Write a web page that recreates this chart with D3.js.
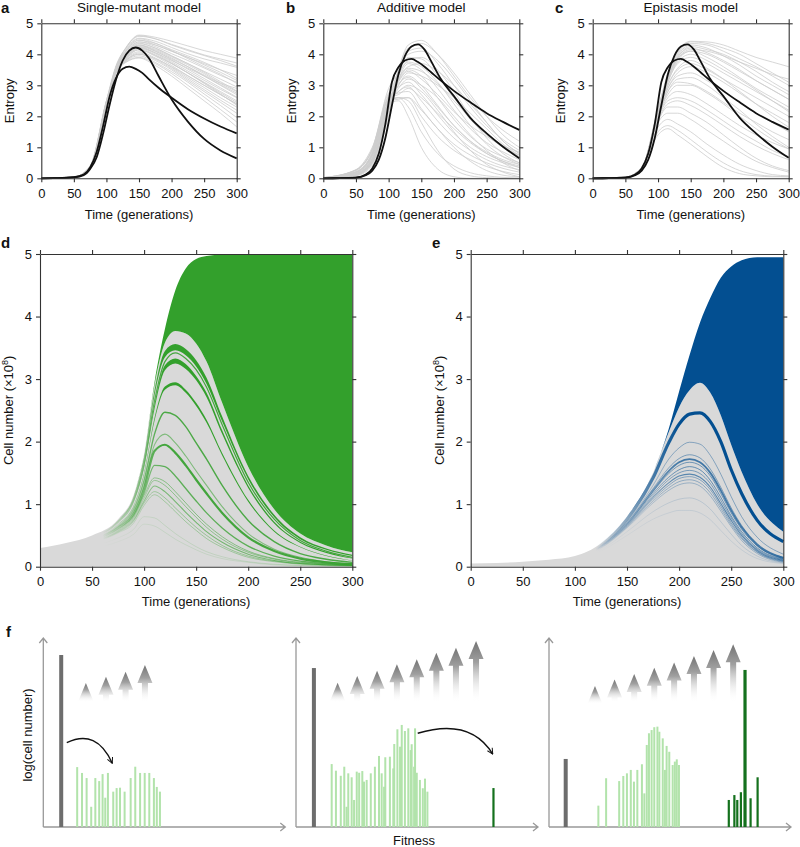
<!DOCTYPE html>
<html><head><meta charset="utf-8">
<script src="https://cdn.jsdelivr.net/npm/d3@7"></script>
<style>body{margin:0;background:#fff}svg{display:block}</style>
</head><body>
<svg id="chart" width="800" height="847"></svg>
<script>
// ---------------- DATA ----------------
const xTicks = [0,50,100,150,200,250,300];
const entropyTicks = [0,1,2,3,4,5];
const cellTicks = [0,1,2,3,4,5];
const panelTitles = ["Single-mutant model","Additive model","Epistasis model"];

const grayTimes = [0,50,75,100,115,130,150,175,200,225,250,275,300];
const blackTimes = [0,25,50,65,75,85,95,105,115,125,135,145,155,165,180,200,225,250,275,300];

const singleBlackHigh = [0,0.005,0.03,0.1,0.3,0.68,1.45,2.38,3.2,3.8,4.12,4.22,4.12,3.88,3.3,2.55,1.83,1.27,0.9,0.645];
const singleBlackLow  = [0,0.005,0.035,0.12,0.35,0.85,1.7,2.65,3.25,3.53,3.6,3.53,3.4,3.2,2.92,2.6,2.23,1.93,1.67,1.45];
const additiveBlackHigh = [0,0.003,0.02,0.1,0.25,0.6,1.3,2.35,3.35,3.95,4.25,4.32,4.15,3.78,3.2,2.65,1.95,1.45,1.02,0.645];
const additiveBlackLow  = [0,0.003,0.025,0.12,0.32,0.8,1.75,3.1,3.58,3.8,3.85,3.75,3.6,3.42,3.15,2.82,2.45,2.1,1.82,1.56];
const epistasisBlackHigh = [0,0.003,0.02,0.1,0.25,0.6,1.3,2.35,3.35,3.95,4.25,4.32,4.15,3.78,3.2,2.65,1.95,1.45,1.02,0.66];
const epistasisBlackLow  = [0,0.003,0.025,0.12,0.32,0.8,1.75,3.1,3.58,3.8,3.85,3.75,3.6,3.42,3.15,2.82,2.45,2.1,1.82,1.57];

const singleGray = [
[0,0.04,0.35,2.4,3.6,4.2,4.62,4.55,4.42,4.27,4.12,4.0,3.88],
[0,0.04,0.38,2.5,3.65,4.2,4.58,4.5,4.32,4.15,3.98,3.85,3.72],
[0,0.03,0.33,2.35,3.55,4.15,4.52,4.42,4.22,4.02,3.85,3.72,3.58],
[0,0.04,0.36,2.45,3.6,4.1,4.46,4.3,4.1,3.9,3.7,3.5,3.32],
[0,0.03,0.3,2.3,3.5,4.05,4.4,4.25,4.02,3.8,3.56,3.32,3.1],
[0,0.04,0.36,2.4,3.55,4.02,4.36,4.2,3.95,3.7,3.45,3.2,2.95],
[0,0.04,0.4,2.5,3.6,4.0,4.3,4.1,3.85,3.6,3.33,3.06,2.8],
[0,0.03,0.32,2.3,3.45,3.95,4.28,4.13,3.88,3.6,3.3,3.0,2.7],
[0,0.04,0.36,2.4,3.5,3.95,4.24,4.05,3.76,3.46,3.16,2.87,2.6],
[0,0.04,0.38,2.45,3.5,3.9,4.18,3.98,3.7,3.4,3.1,2.8,2.5],
[0,0.03,0.34,2.35,3.45,3.88,4.14,3.94,3.64,3.31,3.0,2.7,2.4],
[0,0.04,0.36,2.4,3.45,3.85,4.08,3.88,3.58,3.25,2.93,2.6,2.3],
[0,0.04,0.38,2.45,3.45,3.82,4.04,3.84,3.54,3.2,2.86,2.52,2.2],
[0,0.03,0.33,2.3,3.4,3.8,4.0,3.8,3.5,3.15,2.8,2.45,2.1],
[0,0.04,0.37,2.4,3.42,3.78,3.95,3.74,3.44,3.1,2.72,2.35,1.96],
[0,0.04,0.4,2.5,3.45,3.76,3.9,3.7,3.38,3.0,2.62,2.22,1.82],
[0,0.03,0.35,2.35,3.38,3.74,3.88,3.64,3.3,2.9,2.5,2.1,1.66],
[0,0.04,0.36,2.42,3.6,4.22,4.6,4.5,4.3,4.12,3.96,3.8,3.62],
[0,0.04,0.34,2.38,3.55,4.08,4.45,4.35,4.15,3.95,3.74,3.5,3.22],
[0,0.03,0.32,2.32,3.5,3.98,4.34,4.2,3.95,3.7,3.42,3.12,2.82],
[0,0.04,0.37,2.42,3.5,3.92,4.25,4.1,3.82,3.52,3.22,2.92,2.62],
[0,0.04,0.35,2.38,3.45,3.86,4.15,3.96,3.7,3.4,3.08,2.76,2.45],
[0,0.03,0.33,2.33,3.48,3.9,4.2,4.05,3.8,3.55,3.3,3.02,2.75],
[0,0.04,0.38,2.46,3.55,4.02,4.4,4.3,4.1,3.9,3.66,3.42,3.16],
[0,0.04,0.36,2.4,3.42,3.8,4.0,3.86,3.6,3.3,3.0,2.7,2.4],
[0,0.03,0.34,2.36,3.58,4.12,4.5,4.36,4.12,3.86,3.6,3.36,3.06],
[0,0.04,0.37,2.44,3.52,3.96,4.3,4.16,3.92,3.66,3.38,3.08,2.9],
[0,0.04,0.35,2.4,3.5,3.94,4.22,4.02,3.72,3.4,3.06,2.72,2.36]
];

const additiveGray = [
[0,0.15,0.6,2.4,3.5,4.3,4.45,4.0,3.3,2.6,2.0,1.55,1.2],
[0,0.2,0.75,2.6,3.45,4.1,4.2,3.7,3.0,2.3,1.7,1.25,0.9],
[0.02,0.27,0.95,2.9,3.4,3.9,3.85,3.3,2.6,1.9,1.4,1.0,0.75],
[0,0.12,0.55,2.3,3.2,3.7,3.5,2.9,2.2,1.6,1.15,0.85,0.6],
[0.01,0.2,0.8,2.7,3.15,3.5,3.3,2.6,1.9,1.35,0.95,0.7,0.5],
[0,0.1,0.5,2.2,3.0,3.3,3.0,2.35,1.7,1.2,0.85,0.6,0.45],
[0.01,0.22,0.85,2.75,2.95,3.1,2.7,2.05,1.45,1.0,0.7,0.5,0.35],
[0,0.14,0.6,2.4,2.8,2.95,2.5,1.85,1.3,0.9,0.6,0.4,0.28],
[0.01,0.25,0.9,2.6,2.75,2.8,2.25,1.6,1.1,0.75,0.5,0.32,0.2],
[0,0.15,0.65,2.4,2.6,2.6,2.0,1.35,0.9,0.6,0.38,0.22,0.12],
[0.02,0.27,0.95,2.55,2.6,2.3,1.5,0.8,0.4,0.18,0.08,0.03,0],
[0.02,0.26,0.9,2.4,2.5,2.0,1.0,0.3,0.05,0,0,0,0],
[0.01,0.2,0.8,2.45,2.6,2.5,1.8,0.9,0.3,0.08,0.02,0,0],
[0,0.1,0.5,2.2,3.3,3.8,3.9,3.5,2.8,2.0,1.3,0.8,0.5],
[0,0.12,0.55,2.3,3.2,3.6,3.7,3.45,3.0,2.4,1.8,1.2,0.8],
[0.01,0.18,0.7,2.5,3.0,3.4,3.3,3.0,2.6,2.1,1.6,1.1,0.75],
[0,0.14,0.6,2.35,2.9,3.2,3.0,2.6,2.0,1.4,0.9,0.5,0.25],
[0.01,0.2,0.75,2.5,2.8,3.0,2.8,2.2,1.5,0.9,0.45,0.2,0.05],
[0,0.1,0.45,2.15,3.4,4.0,4.1,3.8,3.2,2.5,1.8,1.2,0.8],
[0.01,0.16,0.65,2.4,3.1,3.45,3.2,2.7,2.15,1.7,1.35,1.05,0.85],
[0,0.2,0.8,2.6,2.7,2.9,2.6,2.1,1.6,1.15,0.8,0.55,0.4],
[0,0.08,0.4,2.05,3.5,4.2,4.35,4.0,3.4,2.7,2.0,1.4,1.0],
[0.02,0.28,1.0,2.5,2.55,2.6,2.2,1.6,1.0,0.55,0.25,0.1,0.05],
[0,0.13,0.55,2.3,3.3,3.75,3.6,3.1,2.4,1.7,1.1,0.7,0.45],
[0.01,0.18,0.72,2.5,3.05,3.25,2.9,2.3,1.7,1.2,0.8,0.55,0.35],
[0,0.12,0.5,2.25,3.15,3.55,3.45,3.05,2.5,1.95,1.45,1.05,0.7]
];

const epistasisGray = [
[0,0.03,0.3,2.2,3.4,4.1,4.42,4.4,4.3,4.1,3.9,3.75,3.6],
[0,0.03,0.28,2.1,3.3,4.0,4.35,4.3,4.1,3.85,3.6,3.3,3.0],
[0,0.04,0.33,2.25,3.3,3.95,4.3,4.2,3.95,3.65,3.3,3.0,2.7],
[0,0.03,0.3,2.15,3.2,3.9,4.2,4.05,3.8,3.5,3.15,2.85,2.55],
[0,0.04,0.32,2.2,3.2,3.85,4.1,3.9,3.6,3.25,2.9,2.6,2.3],
[0,0.03,0.3,2.1,3.1,3.7,3.9,3.7,3.4,3.1,2.8,2.5,2.2],
[0,0.03,0.32,2.15,3.0,3.5,3.7,3.5,3.2,2.9,2.6,2.3,2.0],
[0,0.04,0.33,2.1,2.9,3.3,3.4,3.15,2.8,2.45,2.1,1.8,1.5],
[0,0.03,0.3,2.0,2.8,3.1,3.05,2.8,2.45,2.1,1.8,1.5,1.25],
[0,0.04,0.34,2.0,2.6,2.8,2.7,2.4,2.05,1.7,1.4,1.15,0.95],
[0,0.03,0.32,1.9,2.4,2.5,2.35,2.05,1.7,1.35,1.05,0.8,0.6],
[0,0.04,0.35,1.8,2.1,2.1,1.9,1.55,1.2,0.85,0.55,0.35,0.2],
[0,0.04,0.36,1.65,1.9,1.75,1.5,1.1,0.75,0.45,0.25,0.12,0.08],
[0,0.04,0.35,1.5,1.7,1.55,1.25,0.85,0.5,0.25,0.12,0.07,0.05],
[0,0.03,0.3,2.2,3.35,4.05,4.4,4.35,4.2,4.0,3.7,3.4,3.1],
[0,0.03,0.29,2.15,3.25,3.9,4.25,4.15,4.0,3.75,3.45,3.1,2.8],
[0,0.04,0.32,2.15,3.1,3.75,4.0,3.8,3.5,3.2,2.85,2.5,2.15],
[0,0.03,0.31,2.1,2.9,3.4,3.6,3.4,3.1,2.75,2.4,2.1,1.8],
[0,0.04,0.33,2.05,2.7,3.0,3.0,2.75,2.4,2.0,1.6,1.25,0.95],
[0,0.04,0.34,1.85,2.3,2.3,2.1,1.8,1.4,1.0,0.65,0.4,0.25],
[0,0.04,0.36,1.4,1.6,1.4,1.1,0.7,0.35,0.15,0.08,0.05,0.05],
[0,0.03,0.3,2.2,3.2,3.85,4.15,4.1,3.95,3.75,3.55,3.35,3.2],
[0,0.03,0.31,2.1,3.0,3.55,3.8,3.55,3.2,2.8,2.4,2.0,1.65],
[0,0.04,0.33,2.0,2.8,3.2,3.25,3.0,2.6,2.2,1.75,1.35,1.0],
[0,0.03,0.3,2.15,3.15,3.8,4.1,4.0,3.75,3.45,3.15,2.85,2.55],
[0,0.04,0.34,1.95,2.5,2.6,2.5,2.2,1.85,1.5,1.2,0.9,0.7]
];

// panel d (single-mutant clone dynamics), cell number x1e8
const cloneTimesD = [0,25,50,75,90,100,110,120,130,140,150,160,175,200,225,250,275,300];
const totalD   = [0.30,0.38,0.50,0.76,1.15,1.80,2.95,3.80,4.42,4.77,4.92,4.97,4.99,4.99,4.99,4.99,4.99,4.99];
const grayTopD = [0.30,0.38,0.50,0.76,1.15,1.80,2.90,3.58,3.77,3.73,3.57,3.28,2.62,1.60,0.92,0.53,0.34,0.23];
const bandD1Upper = [.29,.37,.49,.74,1.12,1.75,2.82,3.45,3.56,3.48,3.30,3.02,2.40,1.45,0.83,0.47,0.29,0.19];
const bandD1Lower = [.29,.37,.48,.73,1.10,1.70,2.74,3.35,3.46,3.38,3.20,2.92,2.32,1.40,0.79,0.44,0.27,0.17];
const bandD2Upper = [.28,.36,.47,.71,1.05,1.62,2.60,3.22,3.33,3.24,3.05,2.78,2.18,1.30,0.72,0.40,0.24,0.14];
const bandD2Lower = [.28,.35,.46,.70,1.03,1.58,2.52,3.14,3.25,3.16,2.98,2.71,2.12,1.26,0.69,0.38,0.22,0.13];
const bandD3Upper = [.27,.35,.45,.68,0.98,1.50,2.38,2.88,2.95,2.83,2.62,2.35,1.82,1.07,0.58,0.32,0.18,0.10];
const bandD3Lower = [.27,.35,.45,.67,0.96,1.47,2.33,2.83,2.90,2.78,2.57,2.30,1.78,1.04,0.56,0.31,0.17,0.095];
const lineD1 = [.28,.36,.47,.72,1.07,1.65,2.65,3.28,3.42,3.33,3.15,2.87,2.27,1.35,0.76,0.42,0.25,0.15];
const lineD2 = [.26,.34,.44,.65,0.92,1.38,2.12,2.47,2.42,2.24,1.98,1.72,1.30,0.74,0.40,0.21,0.12,0.07];
const lineD3 = [.26,.33,.43,.63,0.88,1.30,1.95,2.12,1.98,1.77,1.53,1.30,0.96,0.53,0.28,0.15,0.08,0.05];
const lineD4 = [.25,.33,.42,.62,0.85,1.25,1.85,1.95,1.82,1.62,1.39,1.17,0.86,0.47,0.25,0.13,0.07,0.04];
const lineD5 = [.25,.32,.41,.60,0.82,1.18,1.62,1.60,1.45,1.25,1.05,0.86,0.62,0.33,0.17,0.09,0.05,0.03];
const lineD6 = [.25,.32,.40,.58,0.80,1.14,1.42,1.36,1.20,1.02,0.84,0.68,0.48,0.25,0.13,0.07,0.04,0.02];
const lineD7 = [.24,.31,.40,.57,0.78,1.10,1.38,1.30,1.14,0.96,0.79,0.63,0.44,0.23,0.12,0.06,0.03,0.02];
const lineD8 = [.24,.31,.39,.56,0.75,1.05,1.29,1.20,1.04,0.87,0.71,0.56,0.39,0.20,0.10,0.05,0.03,0.02];
const lineD9 = [.24,.30,.39,.55,0.73,1.02,1.20,1.10,0.94,0.78,0.63,0.50,0.34,0.17,0.09,0.05,0.03,0.02];
const lineD10 = [.23,.30,.38,.54,0.70,0.98,1.15,1.04,0.88,0.72,0.58,0.45,0.31,0.15,0.08,0.04,0.02,0.01];
const lineD11 = [.20,.26,.33,.46,0.60,0.80,0.78,0.66,0.53,0.42,0.32,0.24,0.16,0.08,0.04,0.02,0.01,0.01];
const lineD12 = [.18,.23,.29,.40,0.52,0.68,0.65,0.55,0.44,0.35,0.27,0.20,0.13,0.07,0.03,0.02,0.01,0.01];

// panel e (epistasis clone dynamics)
const cloneTimesE = [0,25,50,75,100,125,150,175,190,200,210,220,230,240,250,260,275,300];
const totalE   = [.05,.06,.08,.11,.17,.37,.80,1.50,2.20,2.80,3.38,3.90,4.30,4.62,4.80,4.90,4.95,4.95];
const grayTopE = [.05,.06,.08,.11,.17,.37,.80,1.50,2.15,2.55,2.82,2.94,2.78,2.42,1.95,1.52,1.00,0.56];
const lineE1  = [.045,.055,.075,.10,.16,.35,.76,1.42,1.98,2.28,2.44,2.46,2.32,2.00,1.55,1.17,.74,.40];
const lineE2  = [.045,.055,.072,.10,.155,.34,.72,1.30,1.72,1.90,1.99,1.96,1.78,1.48,1.12,0.80,0.47,0.20];
const lineE3  = [.044,.054,.07,.098,.152,.33,.70,1.25,1.58,1.73,1.79,1.74,1.56,1.27,0.94,0.66,0.37,0.15];
const lineE4  = [.044,.054,.07,.097,.15,.33,.69,1.22,1.53,1.67,1.72,1.67,1.50,1.22,0.90,0.63,0.35,0.14];
const lineE5  = [.043,.053,.069,.096,.15,.32,.68,1.20,1.49,1.62,1.67,1.62,1.45,1.17,0.86,0.60,0.33,0.13];
const lineE6  = [.043,.053,.068,.095,.148,.32,.67,1.17,1.43,1.55,1.60,1.55,1.38,1.11,0.81,0.56,0.30,0.12];
const lineE7  = [.042,.052,.067,.094,.146,.31,.66,1.14,1.39,1.50,1.54,1.49,1.33,1.06,0.78,0.53,0.28,0.11];
const lineE8  = [.042,.052,.066,.093,.145,.31,.65,1.11,1.34,1.45,1.48,1.43,1.27,1.01,0.74,0.50,0.26,0.10];
const lineE9  = [.041,.051,.065,.092,.143,.30,.64,1.08,1.30,1.41,1.44,1.39,1.23,0.97,0.70,0.47,0.24,0.09];
const lineE10 = [.041,.051,.065,.091,.142,.30,.63,1.05,1.26,1.36,1.39,1.34,1.18,0.93,0.67,0.45,0.23,0.08];
const lineE11 = [.04,.05,.064,.09,.14,.29,.62,1.02,1.22,1.31,1.34,1.29,1.13,0.89,0.64,0.42,0.21,0.07];
const lineE12 = [.038,.048,.06,.085,.13,.27,.56,.88,1.02,1.08,1.10,1.05,.92,.72,.52,.34,.17,.06];
const lineE13 = [.035,.045,.057,.08,.12,.25,.50,.76,.86,.90,.90,.86,.75,.58,.41,.27,.13,.05];

// panel f (schematic histograms): fitness (0-100) and log(cell number) (0-10)
const f1GrayFit = [7.4], f1GrayLog = [9.1];
const f1LightFit = [14.0,16.0,17.9,19.8,21.5,23.1,24.5,25.6,26.7,28.9,30.3,31.7,33.6,36.1,38.0,40.0,41.9,43.8,45.7,46.9,48.2];
const f1LightLog = [3.17,2.86,2.59,1.07,2.59,2.43,2.80,1.55,2.86,1.87,2.06,2.08,1.87,2.59,3.19,2.86,2.86,2.86,2.59,2.12,1.87];
const f1ArrowFit = [17.6,25.9,34.0,42.0];
const f1ArrowTip = [7.62,7.95,8.22,8.57];
const f1Jump = [[9.7,4.46],[22.0,5.22],[28.5,3.37]];

const f2GrayFit = [7.4], f2GrayLog = [8.41];
const f2LightFit = [14.75,16.5,18.5,19.95,21.6,23.0,25.1,26.1,27.4,29.2,30.9,32.6,34.3,35.4,36.9,38.8,40.6,41.9,43.7,45.0,46.4,47.8,49.2,49.9,51.2,52.4,53.3,54.3,20.9,24.0,28.1,36.4,40.2,43.0,47.4,48.8];
const f2LightLog = [3.33,2.98,2.71,3.19,2.84,2.63,2.93,2.87,2.96,2.49,2.84,3.19,3.76,2.84,3.69,3.72,4.39,5.17,5.40,5.08,5.22,4.38,5.22,2.87,2.49,2.05,2.56,1.87,1.07,1.43,2.40,2.13,3.10,4.25,4.07,3.19];
const f2DarkFit = [81.6], f2DarkLog = [2.06];
const f2ArrowFit = [17.2,25.3,33.5,41.7,49.9,58.0,66.1,74.4];
const f2ArrowTip = [7.63,7.99,8.27,8.61,8.87,9.22,9.49,9.84];
const f2Jump = [[50.3,4.96],[72.0,5.8],[81.3,3.86]];

const f3GrayFit = [6.9], f3GrayLog = [3.60];
const f3LightFit = [20.4,23.6,29.0,30.7,32.2,33.8,35.1,36.5,38.4,39.4,40.4,41.3,42.4,43.5,44.8,45.6,47.0,47.9,48.6,49.7,51.1,52.0,52.8,53.7];
const f3LightLog = [1.13,2.58,2.43,2.70,2.84,3.02,2.40,3.02,3.32,1.78,4.34,4.96,5.13,5.28,5.31,5.04,4.69,3.02,4.29,3.98,3.28,3.46,3.58,3.28];
const f3DarkFit = [74.3,76.6,77.8,79.3,81.0,83.3,86.2];
const f3DarkLog = [1.43,1.69,1.43,1.84,8.31,1.52,2.63];
const f3ArrowFit = [19.0,27.1,35.2,43.5,51.7,59.9,68.0,76.1];
const f3ArrowTip = [7.46,7.81,8.10,8.43,8.71,9.05,9.37,9.67];
const fArrowBase = 6.6;

// ---------------- DRAWING ----------------
const FONT = '"Liberation Sans", Arial, Helvetica, sans-serif';
const FS = 13;
const svg = d3.select("#chart");
const defs = svg.append("defs");
const intFmt = d3.format("d");

function styleAxis(sel){
  sel.select(".domain").attr("stroke","#333").attr("stroke-width",1.1);
  sel.selectAll(".tick line").attr("stroke","#333").attr("stroke-width",1.1);
  sel.selectAll("text").attr("font-size",FS).attr("fill","#111").attr("font-family",FONT);
}
function frame(g,x,y,yTicks){
  const [x0,x1]=x.range(), [yb,yt]=y.range();
  g.append("g").attr("transform",`translate(0,${yb})`)
    .call(d3.axisBottom(x).tickValues(xTicks).tickFormat(intFmt).tickSize(4).tickPadding(6).tickSizeOuter(0)).call(styleAxis);
  g.append("g").attr("transform",`translate(0,${yt})`)
    .call(d3.axisTop(x).tickValues(xTicks).tickSize(4).tickFormat("").tickSizeOuter(0)).call(styleAxis);
  g.append("g").attr("transform",`translate(${x0},0)`)
    .call(d3.axisLeft(y).tickValues(yTicks).tickFormat(intFmt).tickSize(4).tickPadding(4).tickSizeOuter(0)).call(styleAxis);
  g.append("g").attr("transform",`translate(${x1},0)`)
    .call(d3.axisRight(y).tickValues(yTicks).tickSize(4).tickFormat("").tickSizeOuter(0)).call(styleAxis);
}
function txt(x,y,s,opt={}){
  const t = svg.append("text").attr("x",x).attr("y",y).text(s)
    .attr("font-family",FONT).attr("font-size",opt.size||FS).attr("fill","#111")
    .attr("text-anchor",opt.anchor||"middle");
  if(opt.bold) t.attr("font-weight","bold");
  if(opt.rot) t.attr("transform",`rotate(-90,${x},${y})`);
  return t;
}

// ---- entropy panels a,b,c ----
const entropyPanels = [
  {x0:41.3,x1:236.7,gray:singleGray,hi:singleBlackHigh,lo:singleBlackLow,letter:"a",lx:1},
  {x0:323.3,x1:519.3,gray:additiveGray,hi:additiveBlackHigh,lo:additiveBlackLow,letter:"b",lx:286},
  {x0:592.7,x1:788.7,gray:epistasisGray,hi:epistasisBlackHigh,lo:epistasisBlackLow,letter:"c",lx:555}
];
entropyPanels.forEach((p,k)=>{
  const x = d3.scaleLinear([0,300],[p.x0,p.x1]);
  const y = d3.scaleLinear([0,5],[178.3,23.3]);
  const g = svg.append("g");
  const lineG = d3.line().x((d,i)=>x(grayTimes[i])).y(d=>y(d)).curve(d3.curveMonotoneX);
  const lineB = d3.line().x((d,i)=>x(blackTimes[i])).y(d=>y(d)).curve(d3.curveMonotoneX);
  g.selectAll(".g").data(p.gray).join("path").attr("d",lineG)
    .attr("fill","none").attr("stroke","#cdcdcd").attr("stroke-width",1).attr("stroke-opacity",0.8);
  g.selectAll(".b").data([p.lo,p.hi]).join("path").attr("d",lineB)
    .attr("fill","none").attr("stroke","#111").attr("stroke-width",1.8);
  frame(g,x,y,entropyTicks);
  txt((p.x0+p.x1)/2,12,panelTitles[k],{size:13.5});
  txt(p.lx,13,p.letter,{anchor:"start",bold:true,size:15});
  txt(p.x0-27.5,(178.3+23.3)/2,"Entropy",{rot:true});
  txt((p.x0+p.x1)/2,219,"Time (generations)");
});

// ---- cell number panels d,e ----
function fadeGradient(id,color,xa,xb){
  const gr = defs.append("linearGradient").attr("id",id).attr("gradientUnits","userSpaceOnUse")
    .attr("x1",xa).attr("x2",xb).attr("y1",0).attr("y2",0);
  gr.append("stop").attr("offset",0).attr("stop-color",color).attr("stop-opacity",0);
  gr.append("stop").attr("offset",1).attr("stop-color",color).attr("stop-opacity",1);
}
function cellPanel(c){
  const x = d3.scaleLinear([0,300],[c.x0,c.x1]);
  const y = d3.scaleLinear([0,5],[566.7,254]);
  const T = c.times;
  const g = svg.append("g");
  fadeGradient(c.gid,c.color,x(c.fade[0]),x(c.fade[1]));
  const areaBelow = d3.area().x((d,i)=>x(T[i])).y0(y(0)).y1(d=>y(d)).curve(d3.curveMonotoneX);
  const areaBetween = d3.area().x((d,i)=>x(T[i])).y0(d=>y(d[0])).y1(d=>y(d[1])).curve(d3.curveMonotoneX);
  const line = d3.line().x((d,i)=>x(T[i])).y(d=>y(d)).curve(d3.curveMonotoneX);
  g.append("path").datum(c.grayTop).attr("d",areaBelow).attr("fill","#d9d9d9");
  g.append("path").datum(c.grayTop.map((v,i)=>[v,c.total[i]])).attr("d",areaBetween).attr("fill",c.color);
  c.bands.forEach(b=>{
    g.append("path").datum(b[1].map((v,i)=>[v,b[0][i]])).attr("d",areaBetween)
      .attr("fill",`url(#${c.gid})`);
  });
  c.lines.forEach((l,i)=>{
    g.append("path").datum(l).attr("d",line).attr("fill","none")
      .attr("stroke",`url(#${c.gid})`).attr("stroke-width",c.widths[i]).attr("stroke-opacity",c.opac[i]);
  });
  frame(g,x,y,cellTicks);
  txt(c.lx,248,c.letter,{anchor:"start",bold:true,size:15});
  const lab = txt(c.x0-26.5,410.3,"",{rot:true});
  lab.append("tspan").text("Cell number (×10");
  lab.append("tspan").text("8").attr("font-size",9).attr("baseline-shift","super");
  lab.append("tspan").text(")");
  txt((c.x0+c.x1)/2,606,"Time (generations)");
}
cellPanel({x0:40,x1:352.3,times:cloneTimesD,total:totalD,grayTop:grayTopD,color:"#33a02c",gid:"fadeD",fade:[60,118],
  bands:[[bandD1Upper,bandD1Lower],[bandD2Upper,bandD2Lower],[bandD3Upper,bandD3Lower]],
  lines:[lineD1,lineD2,lineD3,lineD4,lineD5,lineD6,lineD7,lineD8,lineD9,lineD10,lineD11,lineD12],
  widths:[1.2,1.4,1.1,2.2,1.3,1,1,1.1,1,1,1,1],
  opac:[0.9,0.85,0.55,0.9,0.75,0.5,0.45,0.6,0.4,0.35,0.15,0.12],
  letter:"d",lx:1});
cellPanel({x0:470.7,x1:783.3,times:cloneTimesE,total:totalE,grayTop:grayTopE,color:"#034f91",gid:"fadeE",fade:[120,200],
  bands:[],
  lines:[lineE1,lineE2,lineE3,lineE4,lineE5,lineE6,lineE7,lineE8,lineE9,lineE10,lineE11,lineE12,lineE13],
  widths:[3.2,1,1,1.8,1,1,1,1.1,1,1,1,1,1],
  opac:[1,0.4,0.45,0.7,0.5,0.55,0.45,0.6,0.4,0.35,0.3,0.15,0.1],
  letter:"e",lx:432});

// ---- panel f ----
const ag = defs.append("linearGradient").attr("id","arrowGrad").attr("x1",0).attr("x2",0).attr("y1",0).attr("y2",1);
ag.append("stop").attr("offset",0).attr("stop-color","#747474");
ag.append("stop").attr("offset",0.35).attr("stop-color","#a0a0a0");
ag.append("stop").attr("offset",1).attr("stop-color","#fff").attr("stop-opacity",0);
defs.append("marker").attr("id","jumpHead").attr("viewBox","0 0 10 10").attr("refX",9).attr("refY",5)
  .attr("markerWidth",7).attr("markerHeight",7).attr("orient","auto").attr("markerUnits","userSpaceOnUse")
  .append("path").attr("d","M1,1 L9,5 L1,9").attr("fill","none").attr("stroke","#111").attr("stroke-width",1.4);

const fY = d3.scaleLinear([0,10],[827,638]);
const fPanels = [
  {ax:43.3, grayF:f1GrayFit,grayL:f1GrayLog, lf:f1LightFit,ll:f1LightLog, df:[],dl:[], af:f1ArrowFit,at:f1ArrowTip, jump:f1Jump},
  {ax:296,  grayF:f2GrayFit,grayL:f2GrayLog, lf:f2LightFit,ll:f2LightLog, df:f2DarkFit,dl:f2DarkLog, af:f2ArrowFit,at:f2ArrowTip, jump:f2Jump},
  {ax:549,  grayF:f3GrayFit,grayL:f3GrayLog, lf:f3LightFit,ll:f3LightLog, df:f3DarkFit,dl:f3DarkLog, af:f3ArrowFit,at:f3ArrowTip, jump:null}
];
fPanels.forEach((p,k)=>{
  const x = d3.scaleLinear([0,100],[p.ax,p.ax+242]);
  const g = svg.append("g");
  const ax0=x(0), ax1=x(100), yb=fY(0), yt=fY(10);
  g.append("path").attr("d",`M${ax0},${yb}V${yt}M${ax0-4},${yt+5}L${ax0},${yt}L${ax0+4},${yt+5}`)
    .attr("fill","none").attr("stroke","#999").attr("stroke-width",1.3);
  g.append("path").attr("d",`M${ax0},${yb}H${ax1}M${ax1-5},${yb-4}L${ax1},${yb}L${ax1-5},${yb+4}`)
    .attr("fill","none").attr("stroke","#999").attr("stroke-width",1.3);
  p.af.forEach((f,i)=>{
    const cx=x(f), tip=fY(p.at[i]), base=fY(fArrowBase);
    const hb = tip+18;
    let d = `M${cx},${tip}L${cx+7.5},${hb}`;
    if(hb<base) d += `L${cx+3},${hb}L${cx+3},${base}L${cx-3},${base}L${cx-3},${hb}`;
    d += `L${cx-7.5},${hb}Z`;
    g.append("path").attr("d",d).attr("fill","url(#arrowGrad)");
  });
  g.selectAll(".lg").data(p.lf).join("rect")
    .attr("x",d=>x(d)-1).attr("width",2).attr("y",(d,i)=>fY(p.ll[i])).attr("height",(d,i)=>fY(0)-fY(p.ll[i]))
    .attr("fill","#b2e3ab");
  g.selectAll(".gr").data(p.grayF).join("rect")
    .attr("x",d=>x(d)-2).attr("width",4).attr("y",(d,i)=>fY(p.grayL[i])).attr("height",(d,i)=>fY(0)-fY(p.grayL[i]))
    .attr("fill","#6d6d6d");
  g.selectAll(".dg").data(p.df).join("rect")
    .attr("x",(d,i)=>x(d)-(p.dl[i]>6?1.6:1.1)).attr("width",(d,i)=>p.dl[i]>6?3.2:2.2)
    .attr("y",(d,i)=>fY(p.dl[i])).attr("height",(d,i)=>fY(0)-fY(p.dl[i]))
    .attr("fill","#14711d");
  if(p.jump){
    const [s,c,e]=p.jump;
    g.append("path").attr("d",`M${x(s[0])},${fY(s[1])}Q${x(c[0])},${fY(c[1])} ${x(e[0])},${fY(e[1])}`)
      .attr("fill","none").attr("stroke","#111").attr("stroke-width",1.4).attr("marker-end","url(#jumpHead)");
  }
});
txt(6,636.5,"f",{anchor:"start",bold:true,size:15});
txt(31.5,735,"log(cell number)",{rot:true});
txt(414,845,"Fitness");
</script>
</body></html>
